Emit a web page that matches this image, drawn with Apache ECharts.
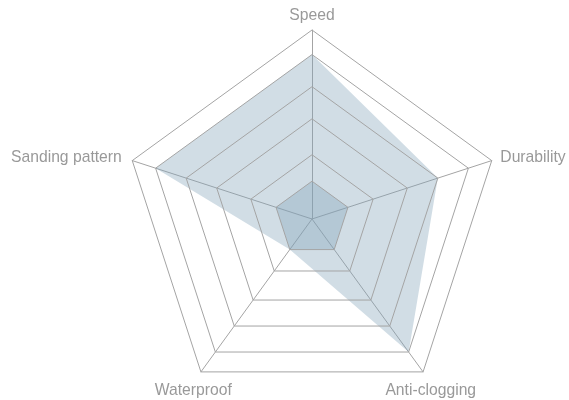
<!DOCTYPE html>
<html>
<head>
<meta charset="utf-8">
<title>Radar</title>
<script src="https://cdn.jsdelivr.net/npm/echarts@6/dist/echarts.min.js"></script>
<style>
  html, body { margin: 0; padding: 0; background: #fff; }
  #main { width: 569px; height: 400px; }
</style>
</head>
<body>
<div id="main"></div>
<script>
'use strict';

// indicators, counter-clockwise from the top
var indicatorNames = ['Speed', 'Sanding pattern', 'Waterproof', 'Anti-clogging', 'Durability'];
// grid rings (the reference spaces them unevenly)
var ringLevels = [20, 34, 53, 70, 87, 100];
// scores in the same order as indicatorNames
var mainScores = [87, 87, 20, 87, 70];
var baseScores = [20, 20, 20, 20, 20];

var lineGrey = '#a4a4a4';
var fillBlue = 'rgba(128,160,184,0.36)';

// label placement per indicator
var nameGaps = [6, 11, 13, 13, 9];
var nameStyles = [
	{},
	{},
	{ align: 'center', verticalAlign: 'top' },
	{ align: 'center', verticalAlign: 'top' },
	{}
];

var indicator = indicatorNames.map(function (n, i) {
	return {
		name: n,
		max: 100,
		min: 0,
		nameGap: nameGaps[i],
		nameTextStyle: nameStyles[i]
	};
});

var ringSeries = {
	type: 'radar',
	symbol: 'none',
	silent: true,
	z: 3,
	lineStyle: { color: lineGrey, width: 1 },
	data: ringLevels.map(function (v) {
		return { value: indicatorNames.map(function () { return v; }) };
	})
};

var chart = echarts.init(document.getElementById('main'));
var option = {
	animation: false,
	radar: {
		center: [312, 219],
		radius: 189,
		startAngle: 90,
		shape: 'polygon',
		splitNumber: 1,
		indicator: indicator,
		axisName: {
			color: '#999',
			fontSize: 15.7,
			fontFamily: 'Liberation Sans, Arial, sans-serif'
		},
		axisLine: { lineStyle: { color: lineGrey, width: 1 } },
		splitLine: { show: false },
		splitArea: { show: false }
	},
	series: [
		{
			type: 'radar',
			symbol: 'none',
			z: 2,
			lineStyle: { width: 0, opacity: 0 },
			areaStyle: { color: fillBlue, opacity: 1 },
			data: [
				{ value: mainScores },
				{ value: baseScores }
			]
		},
		ringSeries
	]
};
chart.setOption(option);
</script>
</body>
</html>
